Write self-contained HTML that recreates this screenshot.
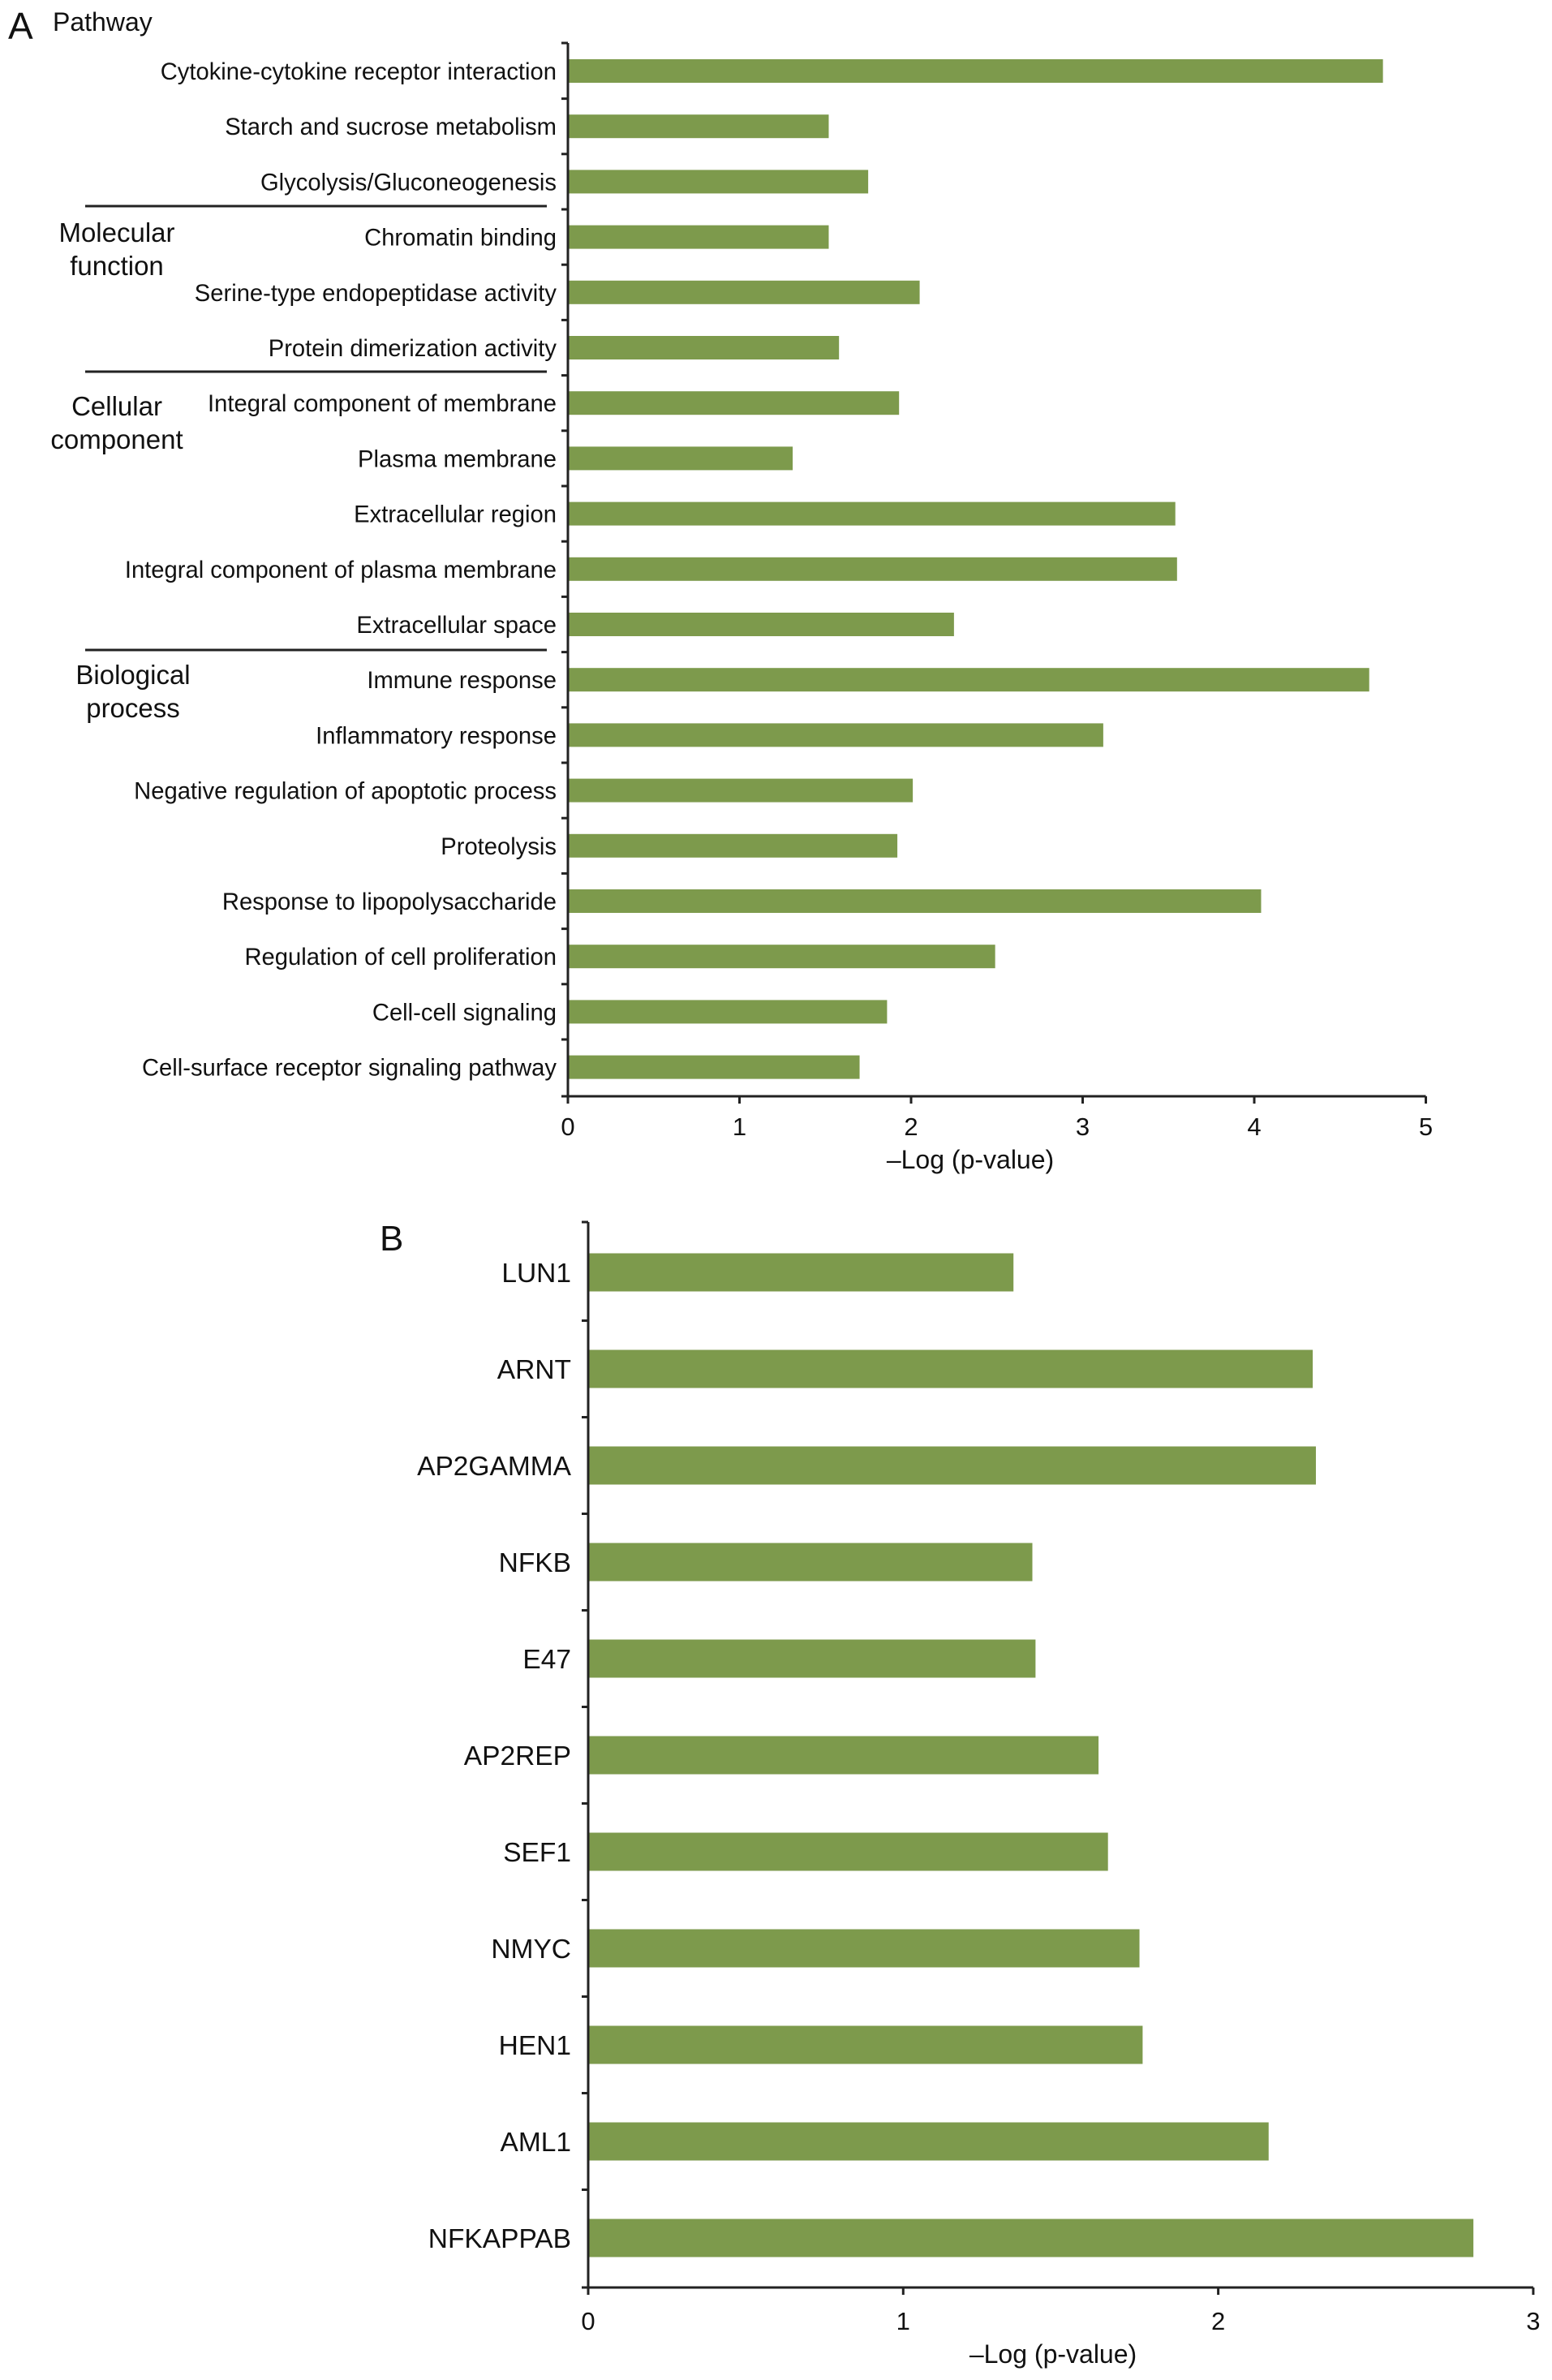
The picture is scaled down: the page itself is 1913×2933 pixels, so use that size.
<!DOCTYPE html>
<html><head><meta charset="utf-8"><style>
html,body{margin:0;padding:0;background:#fff;}
svg{display:block;font-family:"Liberation Sans",Arial,sans-serif;}
</style></head><body>
<svg id="chart" width="1913" height="2933" viewBox="0 0 1913 2933">
<g id="gA"></g>
<g id="gB"></g>
</svg>
<script>
const catsA = ["Cytokine-cytokine receptor interaction","Starch and sucrose metabolism","Glycolysis/Gluconeogenesis","Chromatin binding","Serine-type endopeptidase activity","Protein dimerization activity","Integral component of membrane","Plasma membrane","Extracellular region","Integral component of plasma membrane","Extracellular space","Immune response","Inflammatory response","Negative regulation of apoptotic process","Proteolysis","Response to lipopolysaccharide","Regulation of cell proliferation","Cell-cell signaling","Cell-surface receptor signaling pathway"];
const valsA = [4.75,1.52,1.75,1.52,2.05,1.58,1.93,1.31,3.54,3.55,2.25,4.67,3.12,2.01,1.92,4.04,2.49,1.86,1.70];
const ticksA = [0,1,2,3,4,5];
const catsB = ["LUN1","ARNT","AP2GAMMA","NFKB","E47","AP2REP","SEF1","NMYC","HEN1","AML1","NFKAPPAB"];
const valsB = [1.35,2.30,2.31,1.41,1.42,1.62,1.65,1.75,1.76,2.16,2.81];
const ticksB = [0,1,2,3];

const NS="http://www.w3.org/2000/svg";
const BAR="#7d9a4c";
function mk(parent,tag,attrs,text){
  const e=document.createElementNS(NS,tag);
  for(const k in attrs)e.setAttribute(k,attrs[k]);
  if(text!==undefined)e.textContent=text;
  parent.appendChild(e);return e;
}
function drawChart(g,cats,vals,ticks,o){
  const x=v=>o.x0+v*o.unit;
  const y=i=>o.yc0+i*o.step;
  cats.forEach((c,i)=>{
    const r=mk(g,'rect',{x:x(0),y:y(i)-o.bh/2,width:x(vals[i])-x(0),height:o.bh,fill:BAR});
    
    
    const t=mk(g,'text',{x:o.labelX,y:y(i)+o.fs*0.36,'font-size':o.fs,'text-anchor':'end',fill:'#111'},c);
    
    
  });
  const ya=mk(g,'line',{x1:x(0),y1:o.yTop,x2:x(0),y2:o.yBot,stroke:'#222','stroke-width':3});
  
  
  for(let i=0;i<=cats.length;i++){
    const ty=(i===0)?o.yTop:(i===cats.length?o.yBot:y(i)-o.step/2);
    const tk=mk(g,'line',{x1:x(0)-8,y1:ty,x2:x(0),y2:ty,stroke:'#222','stroke-width':3});
    
    
  }
  const xa=mk(g,'line',{x1:x(0)-8,y1:o.yBot,x2:x(ticks[ticks.length-1]),y2:o.yBot,stroke:'#222','stroke-width':3});
  
  
  ticks.forEach(v=>{
    const tk=mk(g,'line',{x1:x(v),y1:o.yBot,x2:x(v),y2:o.yBot+9,stroke:'#222','stroke-width':3});
    
    
    const tl=mk(g,'text',{x:x(v),y:o.yBot+o.tickDy,'font-size':31,'text-anchor':'middle',fill:'#111'},String(v));
    
    
  });
  const at=mk(g,'text',{x:o.titleX,y:o.yBot+o.titleDy,'font-size':32,'text-anchor':'middle',fill:'#111'},'\u2013Log (p-value)');
  
  
}
const gA=document.getElementById('gA');
drawChart(gA,catsA,valsA,ticksA,{x0:700,unit:211.5,yc0:87.5,step:68.2,bh:29,yTop:53,yBot:1351,labelX:686,fs:29.2,titleX:1196,tickDy:48,titleDy:89});
const gB=document.getElementById('gB');
drawChart(gB,catsB,valsB,ticksB,{x0:725,unit:388.3,yc0:1568,step:119,bh:47,yTop:1506,yBot:2819,labelX:704,fs:33.5,titleX:1298,tickDy:52,titleDy:93});

let t;
t=mk(gA,'text',{x:10,y:48,'font-size':46,fill:'#111'},'A');


t=mk(gA,'text',{x:65,y:38,'font-size':32,fill:'#111'},'Pathway');


[254,458,801].forEach(yy=>{
  const l=mk(gA,'line',{x1:105,y1:yy,x2:674,y2:yy,stroke:'#222','stroke-width':3});
  
  
});
[["Molecular","function",144,298],["Cellular","component",144,512],["Biological","process",164,843]].forEach(g=>{
  const tt=mk(gA,'text',{x:g[2],y:g[3],'font-size':33,'text-anchor':'middle',fill:'#111'},g[0]);
  
  
  const t2=mk(gA,'text',{x:g[2],y:g[3]+41,'font-size':33,'text-anchor':'middle',fill:'#111'},g[1]);
  
  
});
t=mk(gB,'text',{x:468,y:1541,'font-size':44,fill:'#111'},'B');


</script>
</body></html>
